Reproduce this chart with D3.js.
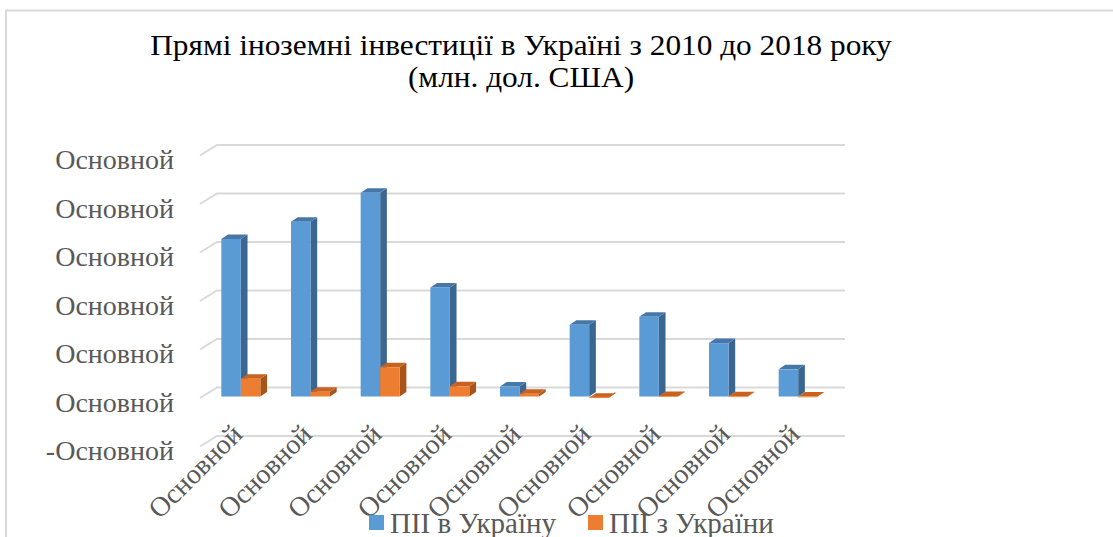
<!DOCTYPE html>
<html>
<head>
<meta charset="utf-8">
<script src="https://cdn.jsdelivr.net/npm/d3@7"></script>
<style>
  html, body { margin: 0; padding: 0; background: #fff; }
  svg { display: block; font-family: "Liberation Serif", "Times New Roman", serif; }
</style>
</head>
<body>
<div id="chart"></div>
<script>
// Chart data
const years = ['2010', '2011', '2012', '2013', '2014', '2015', '2016', '2017', '2018'];
const fdiIn = [6495, 7207, 8401, 4499, 410, 2961, 3284, 2202, 1120];   // ПІІ в Україну
const fdiOut = [736, 192, 1206, 420, 111, -51, 16, 8, -5];            // ПІІ з України
const seriesNames = ['ПІІ в Україну', 'ПІІ з України'];
const yTicks = [-2000, 0, 2000, 4000, 6000, 8000, 10000];
const yTickLabels = ['-Основной', 'Основной', 'Основной', 'Основной', 'Основной', 'Основной', 'Основной'];
const xTickLabels = ['Основной', 'Основной', 'Основной', 'Основной', 'Основной', 'Основной', 'Основной', 'Основной', 'Основной'];
const titleLines = ['Прямі іноземні інвестиції в Україні з 2010 до 2018 року', '(млн. дол. США)'];

// Layout config
const config = {
  width: 1113,
  height: 537,
  front: { left: 200, right: 827 },
  depth: { dx: 17, dy: -10.5 },     // floor depth (front -> back wall)
  bar3d: { dx: 6.7, dy: -4.5 },     // bar thickness in perspective
  textColor: '#595959',
  gridColor: '#d9d9d9',
  colors: [
    { front: '#5b9bd5', top: '#4677a8', side: '#3b6690' },
    { front: '#ed7d31', top: '#c9621f', side: '#a8541b' }
  ]
};

const svg = d3.select('#chart')
  .append('svg')
    .attr('width', config.width)
    .attr('height', config.height);

// chart border (top + left visible)
svg.append('path')
  .attr('d', `M6,${config.height} V10.5 H${config.width}`)
  .attr('fill', 'none')
  .attr('stroke', config.gridColor)
  .attr('stroke-width', 2);

// Title (slightly wide serif, like the original)
svg.append('g')
  .attr('transform', 'translate(521,0) scale(1.08,1)')
  .append('text')
    .attr('text-anchor', 'middle')
    .attr('font-size', 29)
    .attr('fill', '#000')
  .selectAll('tspan')
  .data(titleLines)
  .join('tspan')
    .attr('x', 0)
    .attr('y', (d, i) => 55 + i * 32)
    .text(d => d);

// Scales
const y = d3.scaleLinear()
  .domain([-2000, 10000])
  .range([445, 154]);

const x0 = d3.scaleBand()
  .domain(years)
  .range([206, 833])
  .paddingInner(0.44)
  .paddingOuter(0.22);

const x1 = d3.scaleBand()
  .domain(seriesNames)
  .range([0, x0.bandwidth()]);

// Gridlines: floor diagonal + back wall line
const gridFront = v => [config.front.left, y(v) + 1.5];
svg.append('g')
  .selectAll('path')
  .data(yTicks)
  .join('path')
    .attr('d', v => {
      const [fx, fy] = gridFront(v);
      const bx = fx + config.depth.dx, by = fy + config.depth.dy;
      return `M${fx},${fy} L${bx},${by} H${config.front.right + config.depth.dx + 1}`;
    })
    .attr('fill', 'none')
    .attr('stroke', config.gridColor)
    .attr('stroke-width', 2);

// Y axis labels
const yAxis = svg.append('g')
  .attr('transform', `translate(${config.front.left},0)`)
  .call(d3.axisLeft(y)
    .tickValues(yTicks)
    .tickFormat((d, i) => yTickLabels[i])
    .tickSize(0)
    .tickPadding(26));
yAxis.select('.domain').remove();
yAxis.selectAll('text')
  .attr('dy', '0.53em')
  .attr('font-family', '"Liberation Serif", "Times New Roman", serif')
  .attr('font-size', 28)
  .attr('fill', config.textColor);

// X axis labels (rotated)
const xAxis = svg.append('g')
  .attr('transform', 'translate(0,429)')
  .call(d3.axisBottom(x0)
    .tickFormat((d, i) => xTickLabels[i])
    .tickSize(0)
    .tickPadding(0));
xAxis.select('.domain').remove();
xAxis.selectAll('text')
  .attr('font-family', '"Liberation Serif", "Times New Roman", serif')
  .attr('font-size', 28)
  .attr('fill', config.textColor)
  .attr('text-anchor', 'end')
  .attr('dy', '0.35em')
  .attr('transform', 'translate(-4,0) rotate(-45)');

// Bars (pseudo 3D)
const barData = [];
years.forEach((yr, i) => {
  barData.push({ year: yr, s: 0, value: fdiIn[i] });
  barData.push({ year: yr, s: 1, value: fdiOut[i] });
});

const { dx, dy } = config.bar3d;
const bars = svg.append('g')
  .selectAll('g')
  .data(barData)
  .join('g');

bars.each(function (d) {
  const g = d3.select(this);
  const bx = x0(d.year) + x1(seriesNames[d.s]);
  const w = x1.bandwidth();
  const yTop = Math.min(y(d.value), y(0));
  const yBot = Math.max(y(d.value), y(0));
  const yFace = y(d.value);
  const c = config.colors[d.s];

  // side face
  g.append('path')
    .attr('d', `M${bx + w},${yTop} L${bx + w + dx},${yTop + dy} L${bx + w + dx},${yBot + dy} L${bx + w},${yBot} Z`)
    .attr('fill', c.side);
  // top face
  g.append('path')
    .attr('d', `M${bx},${yFace} L${bx + dx},${yFace + dy} L${bx + w + dx},${yFace + dy} L${bx + w},${yFace} Z`)
    .attr('fill', c.top);
  // front face
  g.append('rect')
    .attr('x', bx)
    .attr('y', yTop)
    .attr('width', w)
    .attr('height', Math.max(yBot - yTop, 0.8))
    .attr('fill', c.front);
});

// Legend
const legendX = [369, 588];
const legend = svg.append('g')
  .selectAll('g')
  .data(seriesNames)
  .join('g')
    .attr('transform', (d, i) => `translate(${legendX[i]},0)`);
legend.append('rect')
  .attr('x', 0)
  .attr('y', 515)
  .attr('width', 15)
  .attr('height', 15)
  .attr('fill', (d, i) => config.colors[i].front);
legend.append('text')
  .attr('x', 21)
  .attr('y', 533)
  .attr('font-size', 29)
  .attr('fill', config.textColor)
  .text(d => d);
</script>
</body>
</html>
